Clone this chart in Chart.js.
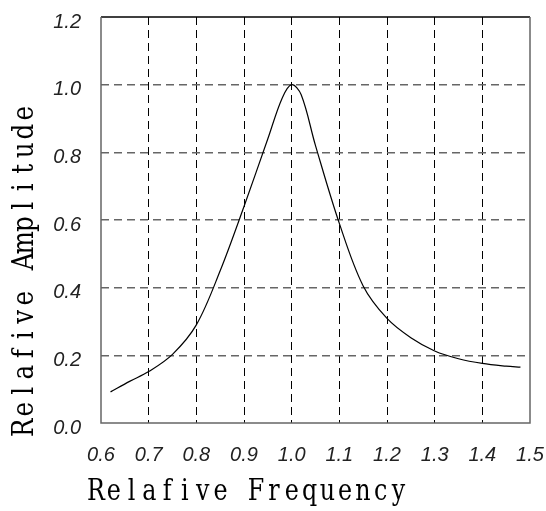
<!DOCTYPE html>
<html>
<head>
<meta charset="utf-8">
<title>Relative Amplitude</title>
<script src="https://cdn.jsdelivr.net/npm/chart.js@4.4.1/dist/chart.umd.min.js"></script>
<style>
  html, body { margin: 0; padding: 0; background: #fff; }
  #wrap { width: 546px; height: 511px; }
</style>
</head>
<body>
<div id="wrap"><canvas id="chart" width="546" height="511"></canvas></div>
<script>
  // curve values
  const freq = [0.62, 0.66, 0.70, 0.75, 0.80, 0.85, 0.90, 0.95, 0.98, 1.00, 1.02, 1.05, 1.10, 1.15, 1.20, 1.25, 1.30, 1.35, 1.40, 1.45, 1.48];
  const amplitude = [0.092, 0.123, 0.152, 0.203, 0.29, 0.45, 0.64, 0.84, 0.96, 1.0, 0.97, 0.82, 0.59, 0.405, 0.309, 0.252, 0.213, 0.19, 0.176, 0.168, 0.165];

  const xTicks = [0.6, 0.7, 0.8, 0.9, 1.0, 1.1, 1.2, 1.3, 1.4, 1.5];
  const yTicks = [0.0, 0.2, 0.4, 0.6, 0.8, 1.0, 1.2];

  const xTitle = "Relafive Frequency";
  const yTitle = "Relafive Amplitude";

  const points = freq.map((f, i) => ({ x: f, y: amplitude[i] }));

  // frame around the plot area
  const framePlugin = {
    id: "frame",
    afterDraw(chart) {
      const { ctx, chartArea: a } = chart;
      ctx.save();
      ctx.lineWidth = 1.5;
      ctx.strokeStyle = "#000";
      ctx.beginPath();
      ctx.moveTo(a.left, a.top);
      ctx.lineTo(a.right, a.top);
      ctx.stroke();
      ctx.strokeStyle = "#666";
      ctx.beginPath();
      ctx.moveTo(a.right, a.top);
      ctx.lineTo(a.right, a.bottom);
      ctx.lineTo(a.left, a.bottom);
      ctx.lineTo(a.left, a.top);
      ctx.stroke();
      ctx.restore();
    }
  };

  // axis titles in a narrow, evenly spaced serif face
  function drawSpaced(ctx, text, advance, size) {
    ctx.font = "normal " + size + "px 'DejaVu Serif', 'Liberation Serif', serif";
    ctx.textAlign = "center";
    ctx.textBaseline = "alphabetic";
    for (let i = 0; i < text.length; i++) {
      ctx.save();
      ctx.translate(advance * (i + 0.5), 0);
      ctx.scale(0.82, 1);
      ctx.fillText(text[i], 0, 0);
      ctx.restore();
    }
  }

  const titlePlugin = {
    id: "axisTitles",
    afterDraw(chart) {
      const { ctx, chartArea: a } = chart;
      ctx.save();
      ctx.fillStyle = "#000";
      ctx.translate(a.left - 14, a.bottom + 77);
      drawSpaced(ctx, xTitle, 17.8, 29);
      ctx.restore();

      ctx.save();
      ctx.fillStyle = "#000";
      ctx.translate(a.left - 68, a.bottom + 14);
      ctx.rotate(-Math.PI / 2);
      drawSpaced(ctx, yTitle, 18.5, 30);
      ctx.restore();
    }
  };

  const tickFont = { family: "'Liberation Sans', Arial, sans-serif", size: 20, style: "italic" };
  const noPad = s => { s.paddingLeft = 0; s.paddingRight = 0; s.paddingTop = 0; s.paddingBottom = 0; };

  new Chart(document.getElementById("chart"), {
    type: "scatter",
    data: {
      datasets: [{
        data: points,
        showLine: true,
        borderColor: "#000",
        borderWidth: 1.2,
        pointRadius: 0,
        tension: 0.35,
        fill: false
      }]
    },
    options: {
      responsive: false,
      animation: false,
      layout: { padding: { top: 17, right: 16, left: 0, bottom: 0 } },
      plugins: { legend: { display: false }, tooltip: { enabled: false } },
      scales: {
        x: {
          type: "linear",
          min: 0.6,
          max: 1.5,
          afterBuildTicks: s => { s.ticks = xTicks.map(v => ({ value: v })); },
          afterFit: s => { s.height = 88; noPad(s); },
          border: { display: false, dash: [8, 5] },
          grid: {
            drawTicks: false,
            color: c => (c.tick.value <= 0.6 || c.tick.value >= 1.5) ? "rgba(0,0,0,0)" : "#000",
            lineWidth: 1
          },
          ticks: {
            padding: 20,
            color: "#222",
            font: tickFont,
            callback: v => v.toFixed(1)
          }
        },
        y: {
          min: 0,
          max: 1.2,
          afterBuildTicks: s => { s.ticks = yTicks.map(v => ({ value: v })); },
          afterFit: s => { s.width = 101; noPad(s); },
          border: { display: false, dash: [8, 5] },
          grid: {
            drawTicks: false,
            color: c => (c.tick.value <= 0 || c.tick.value >= 1.2) ? "rgba(0,0,0,0)" : "#666",
            lineWidth: 1.5
          },
          ticks: {
            padding: 20,
            labelOffset: 5,
            color: "#222",
            font: tickFont,
            callback: v => v.toFixed(1)
          }
        }
      }
    },
    plugins: [framePlugin, titlePlugin]
  });
</script>
</body>
</html>
